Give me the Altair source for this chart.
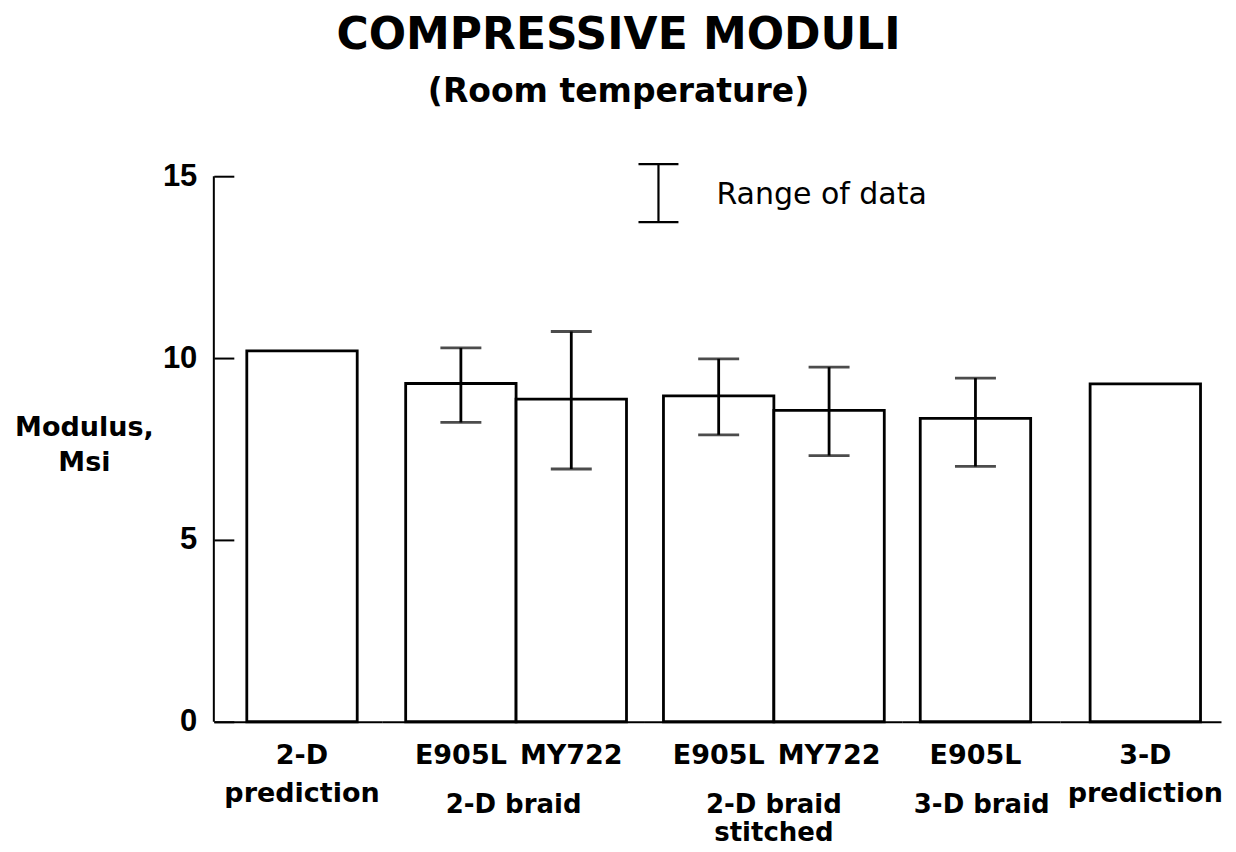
import altair as alt
import pandas as pd

# ---- data ----
groups = ["2-D prediction", "2-D braid", "2-D braid stitched", "3-D braid", "3-D prediction"]
group_titles = [None, "2-D braid", ["2-D braid", "stitched"], "3-D braid", None]
bar_group = ["2-D prediction", "2-D braid", "2-D braid", "2-D braid stitched",
             "2-D braid stitched", "3-D braid", "3-D prediction"]
bar_label = ["2-D\nprediction", "E905L", "MY722", "E905L", "MY722", "E905L", "3-D\nprediction"]
modulus = [10.2, 9.3, 8.87, 8.96, 8.56, 8.34, 9.29]
range_low = [None, 8.23, 6.95, 7.89, 7.32, 7.02, None]
range_high = [None, 10.28, 10.73, 9.98, 9.75, 9.45, None]
y_ticks = [0, 5, 10, 15]
legend_label = ["Range of data"]

df = pd.DataFrame({"group": bar_group, "label": bar_label, "modulus": modulus,
                   "low": range_low, "high": range_high})

FONT = "DejaVu Sans"
TICK_FONT = "Liberation Sans"
BAR_W = 110.5
# panel layout: (width, left pad) in px
panel_w = [168, 263, 258, 158, 161]
panel_left = [33, 24, 19, 18, 30]

yscale = alt.Scale(domain=[0, 15], nice=False, zero=True)

panels = []
for i, g in enumerate(groups):
    sub = df[df["group"] == g]
    n = len(sub)
    W = panel_w[i]
    outer_total = W - n * BAR_W
    po = (W / BAR_W - n) / 2
    align = panel_left[i] / outer_total
    xscale = alt.Scale(domain=list(sub["label"]), paddingInner=0, paddingOuter=po, align=align)
    xaxis_kw = dict(domain=True, domainColor="black", domainWidth=2, ticks=False, tickSize=0,
                    labelFont=FONT, labelFontSize=27, labelFontWeight="bold", labelColor="black",
                    labelPadding=21, labelLineHeight=38, labelAngle=0,
                    labelExpr="split(datum.label, '\\n')",
                    titleFont=FONT, titleFontSize=26, titleFontWeight="bold", titleColor="black",
                    titleY=91, titleBaseline="alphabetic", titleLineHeight=28)
    xenc = alt.X("label:N", scale=xscale, sort=list(sub["label"]),
                 axis=alt.Axis(**xaxis_kw), title=group_titles[i])
    if i == 0:
        yaxis = alt.Axis(values=y_ticks, domain=False, ticks=True, tickSize=20, tickWidth=2,
                         tickColor="black", offset=-20, grid=False,
                         labelFont=TICK_FONT, labelFontSize=31, labelFontWeight="bold",
                         labelColor="black", labelPadding=17,
                         title=["Modulus,", "Msi"], titleAngle=0, titleAlign="center",
                         titleBaseline="alphabetic", titleX=-150, titleY=260,
                         titleFont=FONT, titleFontSize=27, titleFontWeight="bold",
                         titleColor="black", titleLineHeight=35)
        yenc = alt.Y("modulus:Q", scale=yscale, axis=yaxis)
    else:
        yenc = alt.Y("modulus:Q", scale=yscale, axis=None)

    base = alt.Chart(sub)
    bars = base.mark_bar(fill="white", stroke="black", strokeWidth=2.8).encode(x=xenc, y=yenc)
    layers = [bars]
    err = sub.dropna(subset=["low", "high"])
    if len(err):
        eb = alt.Chart(err)
        stem = eb.mark_rule(color="black", strokeWidth=2.8).encode(
            x=alt.X("label:N", scale=xscale, sort=list(sub["label"])),
            y=alt.Y("low:Q", scale=yscale), y2="high:Q")
        cap_lo = eb.mark_tick(color="black", size=41, thickness=2.8).encode(
            x=alt.X("label:N", scale=xscale, sort=list(sub["label"])),
            y=alt.Y("low:Q", scale=yscale))
        cap_hi = eb.mark_tick(color="black", size=41, thickness=2.8).encode(
            x=alt.X("label:N", scale=xscale, sort=list(sub["label"])),
            y=alt.Y("high:Q", scale=yscale))
        layers += [stem, cap_lo, cap_hi]
    if i == 0:
        ydom = alt.Chart(sub).mark_rule(color="black", strokeWidth=2).encode(
            x=alt.value(0),
            y=alt.YDatum(0),
            y2=alt.Y2Datum(15))
        layers.append(ydom)
    if i == 2:
        leg = alt.Chart(pd.DataFrame({"t": legend_label}))
        l_stem = leg.mark_rule(color="black", strokeWidth=2.2).encode(
            x=alt.value(14), y=alt.value(-12), y2=alt.value(46))
        l_top = leg.mark_rule(color="black", strokeWidth=2.2).encode(
            x=alt.value(-6), x2=alt.value(34), y=alt.value(-12))
        l_bot = leg.mark_rule(color="black", strokeWidth=2.2).encode(
            x=alt.value(-6), x2=alt.value(34), y=alt.value(46))
        l_txt = leg.mark_text(font=FONT, fontSize=30, color="black", align="left",
                              baseline="alphabetic").encode(
            x=alt.value(72), y=alt.value(28), text="t:N")
        layers += [l_stem, l_top, l_bot, l_txt]
    panel = alt.layer(*layers).properties(width=W, height=546)
    panels.append(panel)

chart = alt.hconcat(*panels, spacing=0, bounds="flush").properties(
    title=alt.TitleParams(
        text="COMPRESSIVE MODULI", subtitle="(Room temperature)",
        font=FONT, fontSize=44, fontWeight="bold", color="black",
        subtitleFont=FONT, subtitleFontSize=33, subtitleFontWeight="bold",
        subtitleColor="black", subtitlePadding=18, anchor="middle", offset=51),
    padding={"left": 6, "top": 6, "right": 5, "bottom": 5},
    background="white",
).configure_view(stroke=None)

chart.save("out.html", embed_options={"renderer": "svg", "actions": False})
